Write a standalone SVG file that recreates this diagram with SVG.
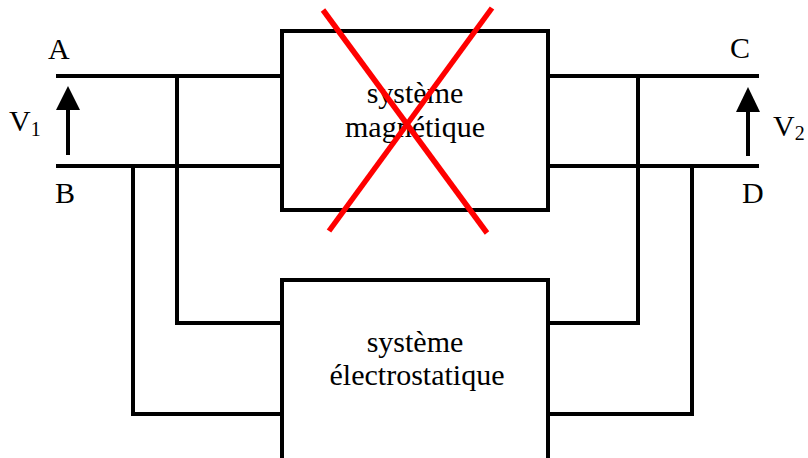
<svg xmlns="http://www.w3.org/2000/svg" width="808" height="458" viewBox="0 0 808 458">
<style>
.w{fill:none;stroke:#000;stroke-width:4;stroke-linecap:square;stroke-linejoin:miter}
.box{fill:#fff;stroke:#000;stroke-width:4}
.t{font-family:"Liberation Serif","Times New Roman",serif;font-size:30px;fill:#000}
.c{text-anchor:middle}
.sub{font-size:20px}
.x{stroke:#ff0000;stroke-width:5.5;stroke-linecap:butt}
</style>
<defs>
<marker id="ah" viewBox="0 0 24 25" refX="12" refY="0" markerWidth="24" markerHeight="25" markerUnits="userSpaceOnUse" orient="auto-start-reverse">
<path d="M0,25 L12,0 L24,25 Z" fill="#000"/>
</marker>
</defs>
<g id="connectors">
<polyline class="w" points="58,76 281,76"/>
<polyline class="w" points="58,166 281,166"/>
<polyline class="w" points="549,76 757,76"/>
<polyline class="w" points="549,166 757,166"/>
<polyline class="w" points="177,76 177,323 282,323"/>
<polyline class="w" points="133,166 133,414 282,414"/>
<polyline class="w" points="638,76 638,323 549,323"/>
<polyline class="w" points="692,166 692,414 549,414"/>
</g>
<g id="magnetique">
<rect class="box" x="282" y="31" width="266" height="179"/>
<text class="t c" x="415" y="103">système</text>
<text class="t c" x="415" y="137">magnétique</text>
<line class="x" x1="323" y1="10" x2="487" y2="233"/>
<line class="x" x1="492" y1="8" x2="329" y2="231"/>
</g>
<g id="electrostatique">
<rect class="box" x="282" y="280" width="266" height="190"/>
<text class="t c" x="415" y="352">système</text>
<text class="t c" x="417" y="385">électrostatique</text>
</g>
<g id="V1">
<line x1="68" y1="155" x2="68" y2="108" stroke="#000" stroke-width="4"/>
<path d="M56,110 L68,86 L80,110 Z" fill="#000"/>
<text class="t" x="9" y="131">V<tspan class="sub" dy="5">1</tspan></text>
</g>
<g id="V2">
<line x1="748" y1="156" x2="748" y2="109" stroke="#000" stroke-width="4"/>
<path d="M736,112 L748,87 L760,112 Z" fill="#000"/>
<text class="t" x="773" y="136">V<tspan class="sub" dy="4">2</tspan></text>
</g>
<g id="A"><text class="t" x="48" y="59">A</text></g>
<g id="B"><text class="t" x="55" y="203">B</text></g>
<g id="C"><text class="t" x="730" y="58">C</text></g>
<g id="D"><text class="t" x="742" y="203">D</text></g>
</svg>
